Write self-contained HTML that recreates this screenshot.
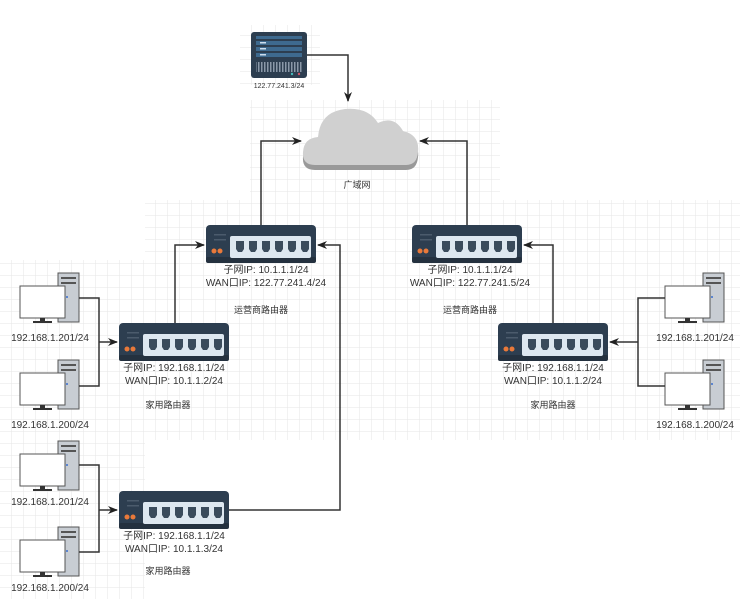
<!DOCTYPE html>
<html><head><meta charset="utf-8"><style>
body{margin:0;background:#fff}
svg{display:block}
text{font-family:"Liberation Sans","Noto Sans CJK SC",sans-serif;fill:#333}
</style></head><body>
<svg width="745" height="599" viewBox="0 0 745 599" xmlns="http://www.w3.org/2000/svg">
<defs>
<pattern id="g" width="12" height="12" patternUnits="userSpaceOnUse"><path d="M12 0V12H0" fill="none" stroke="#e6e6e6" stroke-width="1"/></pattern>
<pattern id="vb" width="3" height="10" patternUnits="userSpaceOnUse"><rect width="1.5" height="10" fill="#8a98a8"/></pattern>
<marker id="a" markerWidth="10" markerHeight="8" refX="9" refY="4" orient="auto" markerUnits="userSpaceOnUse"><path d="M0 0L10 4L0 8L3 4z" fill="#222"/></marker>
<g id="rt">
<rect x="0" y="0" width="110" height="38" rx="4" fill="#2d3e50"/>
<rect x="0" y="32" width="110" height="6" rx="2" fill="#24313f"/>
<rect x="8" y="9" width="12" height="1.5" fill="#4b5b6c"/><rect x="8" y="14" width="12" height="1.5" fill="#4b5b6c"/>
<circle cx="8" cy="26" r="2.5" fill="#e9793a"/><circle cx="14" cy="26" r="2.5" fill="#e9793a"/>
<rect x="24" y="11" width="81" height="22" rx="2" fill="#dde7f0"/>
<g fill="#3a4b5c">
<path d="M30 16h8v8l-2 3h-4l-2-3z"/><path d="M43 16h8v8l-2 3h-4l-2-3z"/><path d="M56 16h8v8l-2 3h-4l-2-3z"/>
<path d="M69 16h8v8l-2 3h-4l-2-3z"/><path d="M82 16h8v8l-2 3h-4l-2-3z"/><path d="M95 16h8v8l-2 3h-4l-2-3z"/>
</g>
</g>
<g id="pc">
<rect x="38" y="0" width="21" height="49" fill="#c8cdd3" stroke="#555" stroke-width="1"/>
<rect x="41" y="4" width="15" height="2" fill="#555"/><rect x="41" y="9" width="15" height="2" fill="#555"/>
<circle cx="47" cy="24" r="1" fill="#3b6fd0"/>
<rect x="0" y="13" width="45" height="32" fill="#fff" stroke="#555" stroke-width="1"/>
<rect x="20" y="45" width="5" height="4" fill="#333"/><rect x="13" y="48" width="19" height="2" fill="#333"/>
</g>
</defs>
<rect width="745" height="599" fill="#fff"/>
<rect x="0" y="260" width="145" height="340" fill="url(#g)"/>
<rect x="145" y="200" width="595" height="240" fill="url(#g)"/>
<rect x="250" y="100" width="250" height="110" fill="url(#g)"/>
<rect x="240" y="25" width="80" height="60" fill="url(#g)"/>

<!-- server -->
<rect x="251" y="32" width="56" height="46" rx="3" fill="#2d3e50"/>
<rect x="256" y="36" width="46" height="3" fill="#3e6a8f"/>
<rect x="256" y="41" width="46" height="4" fill="#3e6a8f"/>
<rect x="256" y="47" width="46" height="4" fill="#3e6a8f"/>
<rect x="256" y="53" width="46" height="4" fill="#3e6a8f"/>
<rect x="260" y="42" width="6" height="1.5" fill="#cde"/><rect x="260" y="48" width="6" height="1.5" fill="#cde"/><rect x="260" y="54" width="6" height="1.5" fill="#cde"/>
<rect x="256" y="62" width="46" height="10" fill="url(#vb)"/>
<circle cx="292" cy="74" r="1.2" fill="#4bb"/><circle cx="299" cy="74" r="1.2" fill="#c56"/>
<text x="279" y="88" font-size="7" text-anchor="middle">122.77.241.3/24</text>
<polyline points="307,55 348,55 348,101" fill="none" stroke="#333" stroke-width="1.5" marker-end="url(#a)"/>

<!-- cloud -->
<path d="M315 170 Q302 170 303 157 Q304 143 318 142 Q320 117 345 114 Q368 112 378 128 Q394 120 403 136 Q420 140 418 157 Q417 170 406 170 Z" fill="#999"/>
<path d="M315 165 Q302 165 303 152 Q304 138 318 137 Q320 112 345 109 Q368 107 378 123 Q394 115 403 131 Q420 135 418 152 Q417 165 406 165 Z" fill="#d0d0d0"/>
<text x="357" y="188" font-size="9" text-anchor="middle">广域网</text>

<!-- operator routers -->
<use href="#rt" x="206" y="225"/>
<use href="#rt" x="412" y="225"/>
<text x="266" y="273" font-size="10" text-anchor="middle">子网IP:  10.1.1.1/24</text>
<text x="266" y="286" font-size="10" text-anchor="middle">WAN口IP:  122.77.241.4/24</text>
<text x="261" y="313" font-size="9" text-anchor="middle">运营商路由器</text>
<text x="470" y="273" font-size="10" text-anchor="middle">子网IP:  10.1.1.1/24</text>
<text x="470" y="286" font-size="10" text-anchor="middle">WAN口IP:  122.77.241.5/24</text>
<text x="470" y="313" font-size="9" text-anchor="middle">运营商路由器</text>
<polyline points="261,225 261,141 301,141" fill="none" stroke="#333" stroke-width="1.5" marker-end="url(#a)"/>
<polyline points="467,225 467,141 420,141" fill="none" stroke="#333" stroke-width="1.5" marker-end="url(#a)"/>

<!-- home routers -->
<use href="#rt" x="119" y="323"/>
<use href="#rt" x="119" y="491"/>
<use href="#rt" x="498" y="323"/>
<text x="174" y="371" font-size="10" text-anchor="middle">子网IP:  192.168.1.1/24</text>
<text x="174" y="384" font-size="10" text-anchor="middle">WAN口IP:  10.1.1.2/24</text>
<text x="168" y="408" font-size="9" text-anchor="middle">家用路由器</text>
<text x="174" y="539" font-size="10" text-anchor="middle">子网IP:  192.168.1.1/24</text>
<text x="174" y="552" font-size="10" text-anchor="middle">WAN口IP:  10.1.1.3/24</text>
<text x="168" y="574" font-size="9" text-anchor="middle">家用路由器</text>
<text x="553" y="371" font-size="10" text-anchor="middle">子网IP:  192.168.1.1/24</text>
<text x="553" y="384" font-size="10" text-anchor="middle">WAN口IP:  10.1.1.2/24</text>
<text x="553" y="408" font-size="9" text-anchor="middle">家用路由器</text>

<polyline points="175,323 175,245 204,245" fill="none" stroke="#333" stroke-width="1.5" marker-end="url(#a)"/>
<polyline points="229,510 340,510 340,245 318,245" fill="none" stroke="#333" stroke-width="1.5" marker-end="url(#a)"/>
<polyline points="553,323 553,245 524,245" fill="none" stroke="#333" stroke-width="1.5" marker-end="url(#a)"/>

<!-- PCs left top -->
<use href="#pc" x="20" y="273"/>
<use href="#pc" x="20" y="360"/>
<text x="50" y="341" font-size="10" text-anchor="middle">192.168.1.201/24</text>
<text x="50" y="428" font-size="10" text-anchor="middle">192.168.1.200/24</text>
<polyline points="79,298 99,298 99,386 79,386" fill="none" stroke="#333" stroke-width="1.5"/>
<line x1="99" y1="342" x2="117" y2="342" stroke="#333" stroke-width="1.5" marker-end="url(#a)"/>

<!-- PCs left bottom -->
<use href="#pc" x="20" y="441"/>
<use href="#pc" x="20" y="527"/>
<text x="50" y="505" font-size="10" text-anchor="middle">192.168.1.201/24</text>
<text x="50" y="591" font-size="10" text-anchor="middle">192.168.1.200/24</text>
<polyline points="79,465 99,465 99,552 79,552" fill="none" stroke="#333" stroke-width="1.5"/>
<line x1="99" y1="510" x2="117" y2="510" stroke="#333" stroke-width="1.5" marker-end="url(#a)"/>

<!-- PCs right -->
<use href="#pc" x="665" y="273"/>
<use href="#pc" x="665" y="360"/>
<text x="695" y="341" font-size="10" text-anchor="middle">192.168.1.201/24</text>
<text x="695" y="428" font-size="10" text-anchor="middle">192.168.1.200/24</text>
<polyline points="665,298 638,298 638,386 665,386" fill="none" stroke="#333" stroke-width="1.5"/>
<line x1="638" y1="342" x2="610" y2="342" stroke="#333" stroke-width="1.5" marker-end="url(#a)"/>
</svg>
</body></html>
